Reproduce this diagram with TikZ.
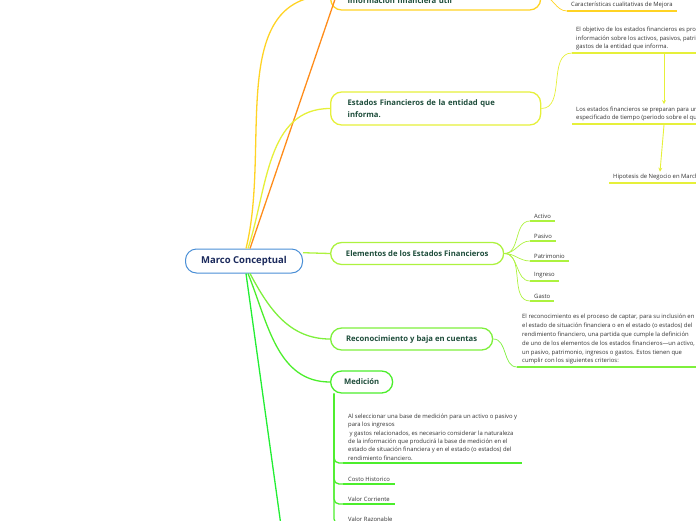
\documentclass[tikz,border=0pt]{standalone}
\usepackage{fontspec}
\setmainfont{Open Sans}
\usetikzlibrary{arrows.meta, positioning, calc}
\definecolor{rootblue}{HTML}{4A8FD6}
\definecolor{navy}{HTML}{1B2A5C}
\definecolor{topictext}{HTML}{1E4D3B}
\definecolor{leaftext}{HTML}{333333}
\definecolor{gold}{HTML}{FFD324}
\definecolor{orangeline}{HTML}{FF8C1A}
\definecolor{limeyellow}{HTML}{E6F03A}
\definecolor{limegreen}{HTML}{ADF23F}
\definecolor{midgreen}{HTML}{7EF03C}
\definecolor{medgreen}{HTML}{4CEE2C}
\definecolor{brightgreen}{HTML}{22EE33}

\begin{document}
\begin{tikzpicture}[x=1pt, y=-1pt,
    rootbox/.style={draw=rootblue, line width=1pt, fill=white, rounded corners=11pt, minimum width=117, minimum height=24, font=\fontsize{9.5}{11}\selectfont\bfseries, text=navy},
    topic/.style={draw, line width=1.3pt, fill=white, rounded corners=11pt, anchor=west, minimum height=22, font=\fontsize{7.7}{12}\selectfont\bfseries, text=topictext},
    leaf/.style={anchor=south west, inner xsep=4, inner ysep=2.5, align=left, font=\fontsize{5.9}{8.6}\selectfont, text=leaftext},
    uline/.style={line width=1.6pt},
    link/.style={line width=1.3pt},
    twig/.style={line width=0.7pt},
    arr/.style={line width=0.9pt, -{Stealth[length=4pt, width=4pt]}}]
    \useasboundingbox (0,0) rectangle (696,520);
    \clip (0,0) rectangle (696,520);

    \node[rootbox] (root) at (244,261) {Marco Conceptual};
    \node[topic, draw=gold, text height=17, text depth=2, inner ysep=5, inner xsep=17, text width=176, align=left] (info) at (330,-4.5) {Información financiera útil};
    \node[topic, draw=limeyellow, minimum height=33, inner xsep=17, text width=176, align=left] (estados) at (330,108.5) {Estados Financieros de la entidad que\\informa.};
    \node[topic, draw=limegreen, minimum width=173] (elem) at (330,253.5) {Elementos de los Estados Financieros};
    \node[topic, draw=midgreen, minimum width=162] (recon) at (330,339) {Reconocimiento y baja en cuentas};
    \node[topic, draw=medgreen, minimum width=62] (med) at (330,382) {Medición};
    \coordinate (offtop) at (345,-30);
    \coordinate (offbot) at (283,540);

    % ramas desde la raiz
    \draw[link, orangeline] ($(root.north)+(6,0)$) -- (offtop);
    \draw[link, gold] ($(root.north)+(2,0)$) to[out=76, in=180] (info.west);
    \draw[link, limeyellow] ($(root.north)+(4,0)$) to[out=72, in=180] (estados.west);
    \draw[link, limegreen] (root.8) -- (elem.west);
    \draw[link, midgreen] ($(root.south)+(6,0)$) to[out=-62, in=180] (recon.west);
    \draw[link, medgreen] ($(root.south)+(4,0)$) to[out=-68, in=180] (med.west);
    \draw[link, brightgreen] ($(root.south)+(2,0)$) -- (offbot);

    \node[leaf] (car) at (567,11) {Características cualitativas de Mejora};
    \draw[uline, gold] (car.south west) -- (car.south east);
    \draw[twig, gold] (info.east) to[out=0, in=180] (car.south west);

    \node[leaf] (obj) at (572,53) {El objetivo de los estados financieros es proporcionar\\información sobre los activos, pasivos, patrimonio, ingresos y\\gastos de la entidad que informa.};
    \node[leaf] (obj2) at (572,124) {Los estados financieros se preparan para un periodo\\especificado de tiempo (periodo sobre el que se informa)};
    \node[leaf] (hipo) at (609,183) {Hipotesis de Negocio en Marcha};
    \draw[uline, limeyellow] (obj.south west) -- (obj.south east);
    \draw[uline, limeyellow] (obj2.south west) -- (obj2.south east);
    \draw[uline, limeyellow] (hipo.south west) -- (hipo.south east);
    \draw[twig, limeyellow] (estados.east) to[out=0, in=180] (obj.south west);
    \draw[arr, limeyellow] ($(obj.south west)+(92,1)$) -- ($(obj2.north west)+(92,0)$);
    \draw[arr, limeyellow] ($(obj2.south west)+(92,1)$) -- ($(hipo.north west)+(51,0)$);

    \node[leaf] (activo) at (530,221) {Activo};
    \node[leaf] (pasivo) at (530,241) {Pasivo};
    \node[leaf] (patri) at (530,261) {Patrimonio};
    \node[leaf] (ingreso) at (530,281) {Ingreso};
    \node[leaf] (gasto) at (530,301) {Gasto};
    \draw[uline, limegreen] (activo.south west) -- (activo.south east);
    \draw[uline, limegreen] (pasivo.south west) -- (pasivo.south east);
    \draw[uline, limegreen] (patri.south west) -- (patri.south east);
    \draw[uline, limegreen] (ingreso.south west) -- (ingreso.south east);
    \draw[uline, limegreen] (gasto.south west) -- (gasto.south east);
    \draw[twig, limegreen] (elem.east) to[out=0, in=180] (activo.south west);
    \draw[twig, limegreen] (elem.east) to[out=0, in=180] (pasivo.south west);
    \draw[twig, limegreen] (elem.east) to[out=0, in=180] (patri.south west);
    \draw[twig, limegreen] (elem.east) to[out=0, in=180] (ingreso.south west);
    \draw[twig, limegreen] (elem.east) to[out=0, in=180] (gasto.south west);

    \node[leaf, inner xsep=5, font=\fontsize{5.9}{8.8}\selectfont] (rectxt) at (517,367) {El reconocimiento es el proceso de captar, para su inclusión en\\el estado de situación financiera o en el estado (o estados) del\\rendimiento financiero, una partida que cumple la definición\\de uno de los elementos de los estados financieros—un activo,\\un pasivo, patrimonio, ingresos o gastos. Estos tienen que\\cumplir con los siguientes criterios:};
    \draw[uline, midgreen] (rectxt.south west) -- (rectxt.south east);
    \draw[twig, midgreen] (recon.east) to[out=0, in=180] (rectxt.south west);

    \node[leaf, inner xsep=5, font=\fontsize{5.9}{8.4}\selectfont] (medtxt) at (343,463) {Al seleccionar una base de medición para un activo o pasivo y\\para los ingresos\\\hspace*{1.5pt}y gastos relacionados, es necesario considerar la naturaleza\\de la información que producirá la base de medición en el\\estado de situación financiera y en el estado (o estados) del\\rendimiento financiero.};
    \node[leaf, inner xsep=5] (costo) at (343,484) {Costo Historico};
    \node[leaf, inner xsep=5] (valcor) at (343,504) {Valor Corriente};
    \node[leaf, inner xsep=5] (valraz) at (343,524) {Valor Razonable};
    \draw[uline, medgreen] (medtxt.south west) -- (medtxt.south east);
    \draw[uline, medgreen] (costo.south west) -- (costo.south east);
    \draw[uline, medgreen] (valcor.south west) -- (valcor.south east);
    \draw[uline, medgreen] (valraz.south west) -- (valraz.south east);
    \draw[link, medgreen, rounded corners=5pt] ($(med.south west)+(4,0)$) |- (medtxt.south west);
    \draw[link, medgreen, rounded corners=5pt] ($(med.south west)+(4,0)$) |- (costo.south west);
    \draw[link, medgreen, rounded corners=5pt] ($(med.south west)+(4,0)$) |- (valcor.south west);
    \draw[link, medgreen, rounded corners=5pt] ($(med.south west)+(4,0)$) |- (valraz.south west);
\end{tikzpicture}
\end{document}
